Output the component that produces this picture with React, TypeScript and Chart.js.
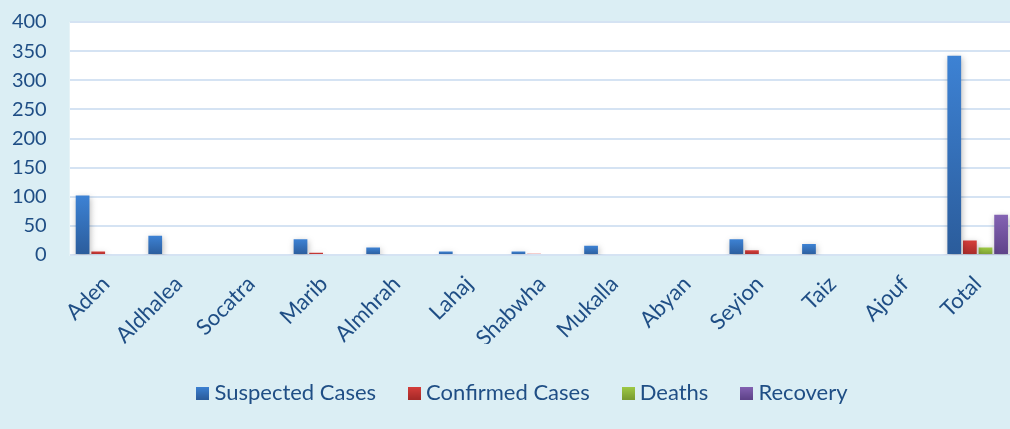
import React, { useEffect, useRef } from "react";
import { Chart, registerables } from "chart.js";

Chart.register(...registerables);

const categories = ["Aden", "Aldhalea", "Socatra", "Marib", "Almhrah", "Lahaj", "Shabwha", "Mukalla", "Abyan", "Seyion", "Taiz", "Ajouf", "Total"];
const suspected = [102, 33, 0, 27, 13, 6, 6, 16, 0, 27, 19, 0, 342];
const confirmed = [6, 0, 0, 4, 0, 0, 2, 0, 0, 8, 0, 0, 25];
const deaths = [0, 0, 0, 0, 0, 0, 0, 0, 0, 0, 0, 0, 13];
const recovery = [0, 0, 0, 0, 0, 0, 0, 0, 0, 0, 0, 0, 69];
const seriesNames = ["Suspected Cases", "Confirmed Cases", "Deaths", "Recovery"];
const yMin = 0;
const yMax = 400;
const yStep = 50;

const palette = [
  { top: "#3D82D4", bottom: "#2B5C9B", mid: "#3470BA" },
  { top: "#D63E3B", bottom: "#A52A28", mid: "#C23533" },
  { top: "#9FCB45", bottom: "#799B31", mid: "#8DB53B" },
  { top: "#8463B3", bottom: "#5E4288", mid: "#71519E" },
];

const TEXT = "#1F4E85";
const FONT = "Lato";

function barGradient(idx: number) {
  return (ctx: any) => {
    const chart = ctx.chart;
    const y = chart.scales && chart.scales.y;
    const p = palette[idx];
    if (!y || ctx.type !== "data") return p.mid;
    const v = ctx.raw as number;
    const t = y.getPixelForValue(v);
    const b = y.getPixelForValue(0);
    if (!isFinite(t) || !isFinite(b) || Math.abs(b - t) < 1) return p.mid;
    const g = chart.ctx.createLinearGradient(0, t, 0, b);
    g.addColorStop(0, p.top);
    g.addColorStop(1, p.bottom);
    return g;
  };
}

function legendSwatch(idx: number) {
  const c = document.createElement("canvas");
  c.width = 13;
  c.height = 13;
  const g2 = c.getContext("2d");
  if (g2) {
    const g = g2.createLinearGradient(0, 0, 0, 13);
    g.addColorStop(0, palette[idx].top);
    g.addColorStop(1, palette[idx].bottom);
    g2.fillStyle = g;
    g2.fillRect(0, 0, 13, 13);
  }
  return c;
}

const plotBg = {
  id: "plotBg",
  beforeDraw(chart: any) {
    const { ctx, chartArea } = chart;
    if (!chartArea) return;
    ctx.save();
    ctx.fillStyle = "#FFFFFF";
    ctx.fillRect(chartArea.left, chartArea.top, chartArea.right - chartArea.left, chartArea.bottom - chartArea.top + 1);
    ctx.restore();
  },
};

const barShadow = {
  id: "barShadow",
  beforeDatasetsDraw(chart: any) {
    const ctx = chart.ctx;
    ctx.save();
    ctx.shadowColor = "rgba(0,0,0,0.28)";
    ctx.shadowBlur = 6;
    ctx.shadowOffsetX = 1;
    ctx.shadowOffsetY = 2;
  },
  afterDatasetsDraw(chart: any) {
    chart.ctx.restore();
  },
};

const legendShift = {
  id: "legendShift",
  afterLayout(chart: any) {
    const lg = chart.legend;
    if (!lg) return;
    lg.left += 36;
  },
};

export default function App() {
  const ref = useRef<HTMLCanvasElement | null>(null);

  useEffect(() => {
    document.body.style.margin = "0";
    const canvas = ref.current;
    if (!canvas) return;
    const allData = [suspected, confirmed, deaths, recovery];
    const swatches = palette.map((_, i) => legendSwatch(i));
    const chart = new Chart(canvas, {
      type: "bar",
      data: {
        labels: categories,
        datasets: allData.map((d, i) => ({
          label: seriesNames[i],
          data: d,
          backgroundColor: barGradient(i),
          borderWidth: 0,
          categoryPercentage: 0.86,
          barPercentage: 0.88,
        })),
      },
      options: {
        responsive: false,
        animation: false,
        layout: { padding: { top: 22, right: 0, bottom: 15, left: 0 } },
        plugins: {
          tooltip: { enabled: false },
          legend: {
            position: "bottom",
            labels: {
              usePointStyle: true,
              pointStyleWidth: 1,
              boxHeight: 13,
              padding: 38,
              color: TEXT,
              font: { family: FONT, size: 22 },
              generateLabels: (c: any) =>
                c.data.datasets.map((ds: any, i: number) => ({
                  text: ds.label,
                  fillStyle: palette[i].mid,
                  strokeStyle: palette[i].mid,
                  lineWidth: 0,
                  pointStyle: swatches[i],
                  fontColor: TEXT,
                  hidden: false,
                  datasetIndex: i,
                })),
            },
          },
        },
        scales: {
          x: {
            grid: { display: false },
            border: { display: false },
            ticks: {
              color: TEXT,
              font: { family: FONT, size: 22 },
              minRotation: 45,
              maxRotation: 45,
              padding: 8,
              autoSkip: false,
            },
            afterFit: (s: any) => {
              s.height = 89;
            },
          },
          y: {
            min: yMin,
            max: yMax,
            grid: { color: "#D5E3F3", lineWidth: 2, drawTicks: false },
            border: { display: false },
            ticks: {
              stepSize: yStep,
              color: TEXT,
              font: { family: FONT, size: 20 },
              padding: 23,
            },
            afterFit: (s: any) => {
              s.width = 69.7;
              s.paddingTop = 12;
              s.paddingBottom = 12;
            },
          },
        },
      },
      plugins: [plotBg, barShadow, legendShift],
    });
    return () => chart.destroy();
  }, []);

  return (
    <div style={{ position: "absolute", left: 0, top: 0, width: 1010, height: 429, overflow: "hidden", background: "#DBEEF4" }}>
      <canvas ref={ref} width={1014} height={429} style={{ display: "block" }} />
    </div>
  );
}
